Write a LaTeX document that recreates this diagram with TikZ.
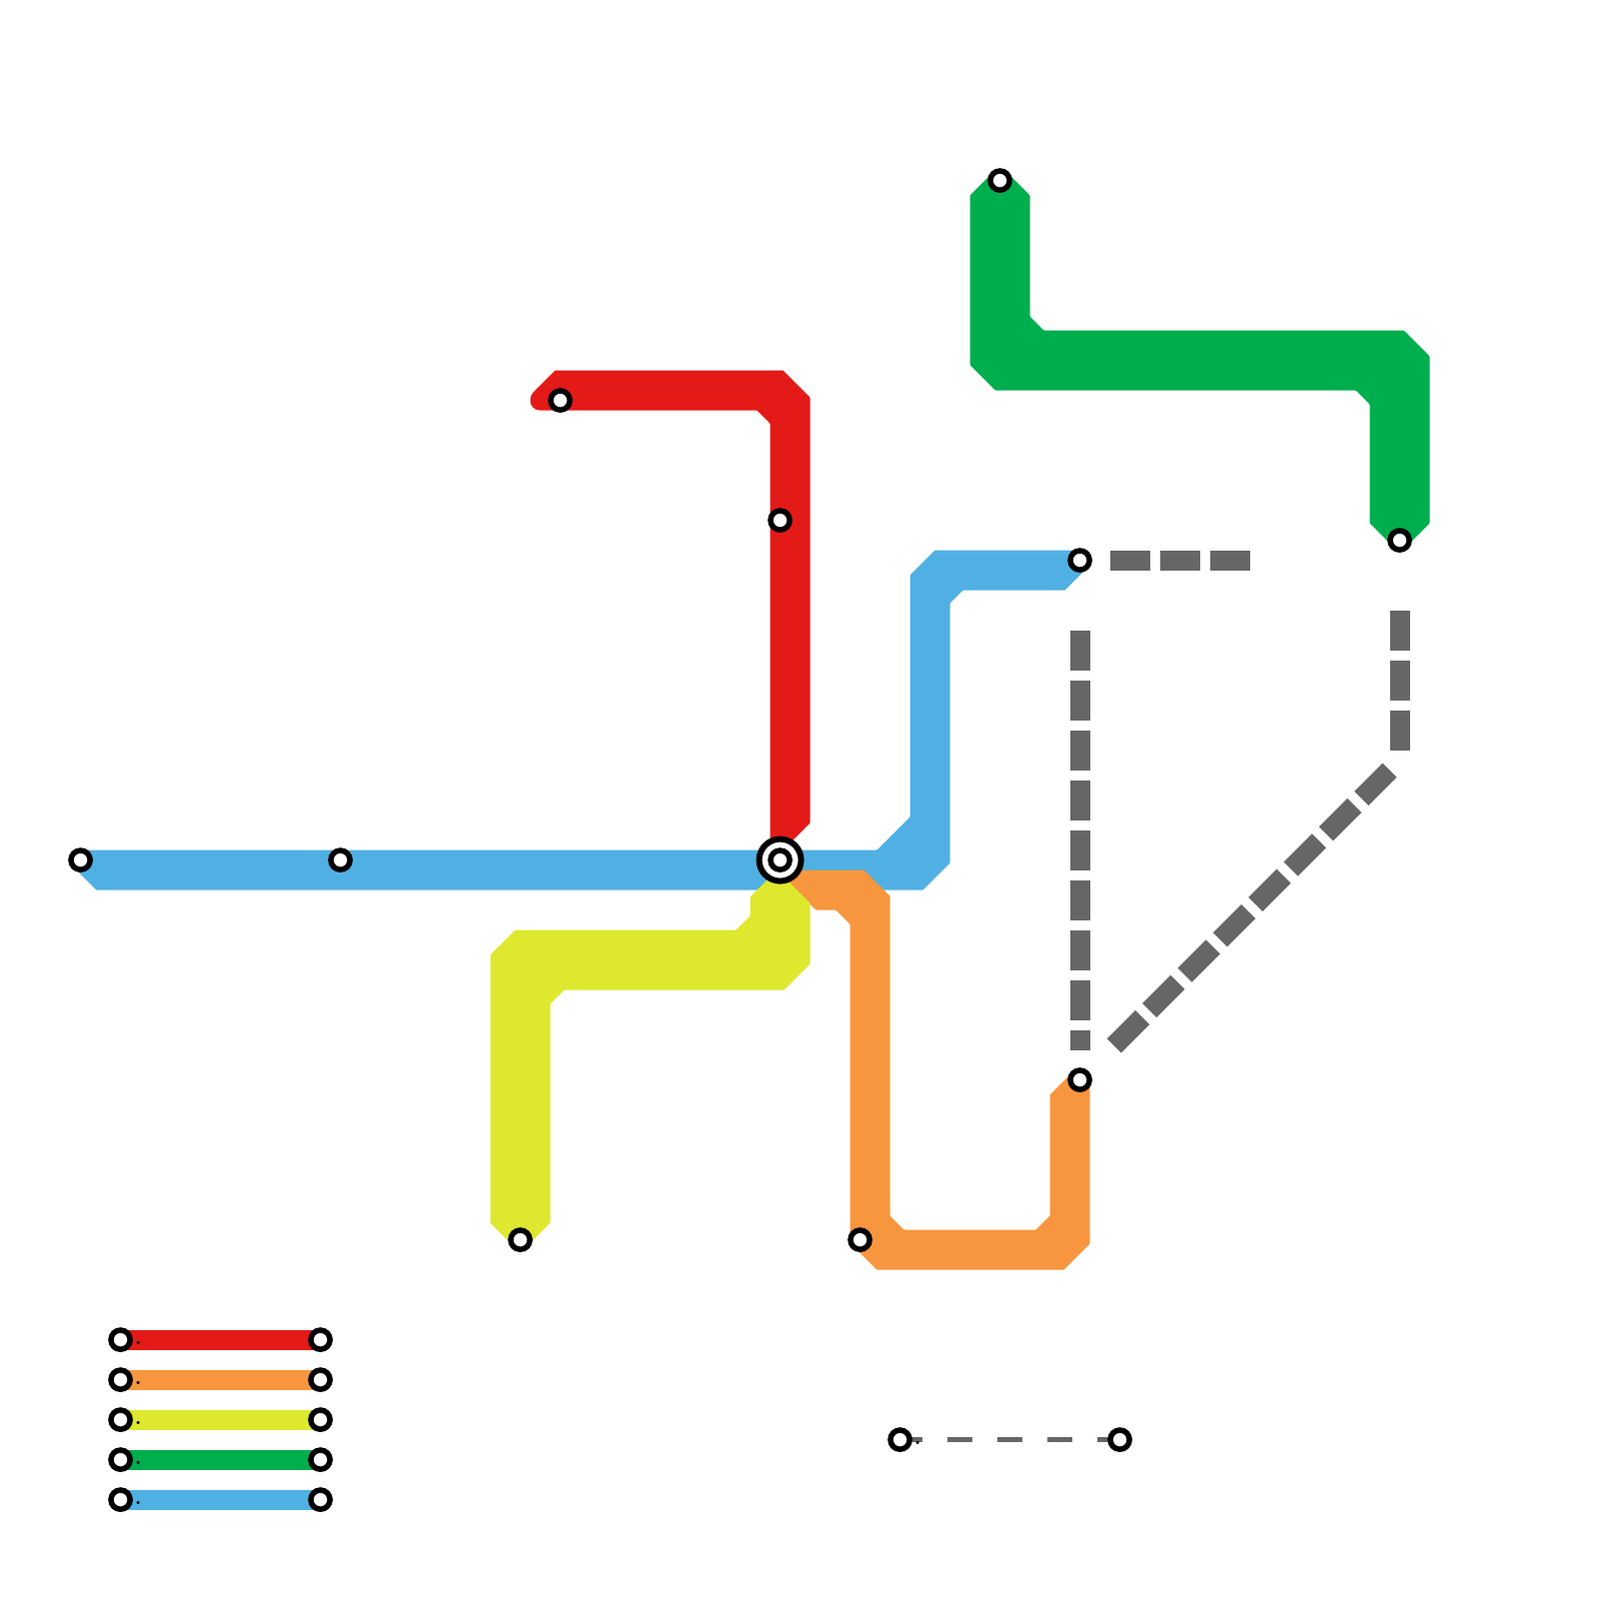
\documentclass[tikz,border=0pt]{standalone}
\usetikzlibrary{backgrounds}
\definecolor{linered}{HTML}{E31A17}
\definecolor{lineorange}{HTML}{F7963E}
\definecolor{lineyellow}{HTML}{DDE82E}
\definecolor{linegreen}{HTML}{00AE4D}
\definecolor{lineblue}{HTML}{50B0E3}
\definecolor{linegray}{HTML}{666666}
\tikzset{
  track/.style={rounded corners=0.08mm},
  stn/.style={circle, draw=black, fill=white, line width=0.55mm, minimum size=1.92mm, inner sep=0pt, outer sep=0pt},
  hub/.style={stn, line width=0.6mm, minimum size=4.2mm},
  planned/.style={draw=linegray, line width=2mm, dash pattern=on 4mm off 1mm},
  bar/.style={line width=2mm},
  thinbar/.style={draw=linegray, line width=0.5mm, dash pattern=on 2.5mm off 2.5mm, dash phase=0.25mm},
  dotlab/.style={font=\fontsize{8}{8}\selectfont, inner sep=0pt},
}
\begin{document}
\begin{tikzpicture}[x=0.1mm, y=-0.1mm]
    \useasboundingbox (-0.6,-0.6) rectangle (1599.4,1599.4);
    % lines
    \fill[track, lineblue] (80,850) -- (877,850) -- (910,817) -- (910,575) -- (935,550) -- (1080,550)
      -- (1090,565) -- (1065,590) -- (963,590) -- (950,603) -- (950,863) -- (923,890) -- (96,890) -- (78,872) -- cycle;
    \fill[track, linered] (540,410) .. controls (534,410) and (530,405) .. (530,400) .. controls (530,397) and (531,394.5) .. (533,392)
      -- (555,370) -- (783,370) -- (810,397) -- (810,823) -- (785,848) -- (770,848) -- (770,423) -- (757,410) -- cycle;
    \fill[track, lineorange] (776,870) -- (864,870) -- (890,896) -- (890,1216) -- (904,1230) -- (1036,1230) -- (1050,1216)
      -- (1050,1095) -- (1072,1073) -- (1085,1073) -- (1090,1080) -- (1090,1244) -- (1064,1270) -- (877,1270) -- (850,1243)
      -- (850,924) -- (836,910) -- (816,910) -- cycle;
    \fill[track, lineyellow] (777,870) -- (810,903) -- (810,964) -- (784,990) -- (564,990) -- (550,1004) -- (550,1223)
      -- (532,1241) -- (508,1241) -- (490,1223) -- (490,955) -- (515,930) -- (736,930) -- (750,916) -- (750,897) -- cycle;
    \fill[track, linegreen] (993,172) -- (1007,172) -- (1030,195) -- (1030,316) -- (1044,330) -- (1404,330) -- (1430,356) -- (1430,523)
      -- (1410,543) -- (1390,543) -- (1370,523) -- (1370,404) -- (1356,390) -- (995.5,390) -- (970,364.5) -- (970,195) -- cycle;
    % planned sections
    \coordinate (pa1) at (1110,560);
    \coordinate (pa2) at (1250,560);
    \coordinate (pb1) at (1080,630);
    \coordinate (pb2) at (1080,1050);
    \coordinate (pc1) at (1400,610);
    \coordinate (pc2) at (1400,750);
    \coordinate (pd1) at (1390,770);
    \coordinate (pd2) at (1113.5,1046.5);
    \draw[planned] (pa1) -- (pa2);
    \draw[planned] (pb1) -- (pb2);
    \draw[planned] (pc1) -- (pc2);
    \draw[planned] (pd1) -- (pd2);
    % stations
    \node[stn] (west) at (80,860) {};
    \node[stn] (mid) at (340,860) {};
    \node[hub] (hubo) at (780,860) {};
    \node[stn] (hubi) at (hubo) {};
    \node[stn] (redend) at (560,400) {};
    \node[stn] (redmid) at (780,520) {};
    \node[stn] (blueend) at (1080,560) {};
    \node[stn] (orangea) at (860,1240) {};
    \node[stn] (orangeb) at (1080,1080) {};
    \node[stn] (yellowend) at (520,1240) {};
    \node[stn] (greena) at (1000,180) {};
    \node[stn] (greenb) at (1400,540) {};
    % legend
    \foreach \i/\y/\c in {1/1340/linered, 2/1380/lineorange, 3/1420/lineyellow, 4/1460/linegreen, 5/1500/lineblue} {
      \node[stn] (keya\i) at (120,\y) {};
      \node[stn] (keyb\i) at (320,\y) {};
      \begin{pgfonlayer}{background}
        \draw[bar, \c] (keya\i.center) -- (keyb\i.center);
      \end{pgfonlayer}
      \node[dotlab] (keyt\i) at (137.7,\y+3) {.};
    }
    \node[stn] (keyc) at (900,1440) {};
    \node[stn] (keyd) at (1120,1440) {};
    \begin{pgfonlayer}{background}
      \draw[thinbar] (keyc.center) -- (keyd.center);
    \end{pgfonlayer}
    \node[dotlab] (keyt6) at (917.7,1443) {.};
\end{tikzpicture}
\end{document}
